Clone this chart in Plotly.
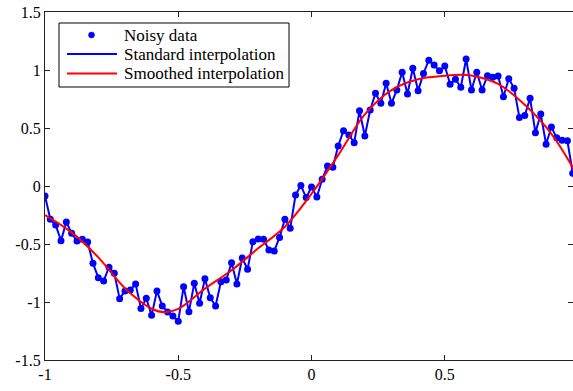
import plotly.graph_objects as go

# ---- data ----
noisy_x = [-1.00, -0.98, -0.96, -0.94, -0.92, -0.90, -0.88, -0.86, -0.84, -0.82,
           -0.80, -0.78, -0.76, -0.74, -0.72, -0.70, -0.68, -0.66, -0.64, -0.62,
           -0.60, -0.58, -0.56, -0.54, -0.52, -0.50, -0.48, -0.46, -0.44, -0.42,
           -0.40, -0.38, -0.36, -0.34, -0.32, -0.30, -0.28, -0.26, -0.24, -0.22,
           -0.20, -0.18, -0.16, -0.14, -0.12, -0.10, -0.08, -0.06, -0.04, -0.02,
           0.00, 0.02, 0.04, 0.06, 0.08, 0.10, 0.12, 0.14, 0.16, 0.18,
           0.20, 0.22, 0.24, 0.26, 0.28, 0.30, 0.32, 0.34, 0.36, 0.38,
           0.40, 0.42, 0.44, 0.46, 0.48, 0.50, 0.52, 0.54, 0.56, 0.58,
           0.60, 0.62, 0.64, 0.66, 0.68, 0.70, 0.72, 0.74, 0.76, 0.78,
           0.80, 0.82, 0.84, 0.86, 0.88, 0.90, 0.92, 0.94, 0.96, 0.98, 1.00]

noisy_y = [-0.086, -0.287, -0.336, -0.471, -0.310, -0.408, -0.474, -0.460, -0.483, -0.667,
           -0.790, -0.819, -0.700, -0.753, -0.971, -0.905, -0.897, -0.845, -1.057, -0.968,
           -1.115, -0.905, -1.034, -1.086, -1.120, -1.165, -0.868, -1.083, -0.839, -1.011,
           -0.800, -0.963, -1.034, -0.825, -0.810, -0.661, -0.845, -0.621, -0.718, -0.480,
           -0.457, -0.460, -0.552, -0.560, -0.443, -0.287, -0.365, -0.078, 0.004, -0.100,
           -0.008, -0.095, 0.058, 0.172, 0.161, 0.345, 0.477, 0.440, 0.373, 0.649,
           0.431, 0.655, 0.799, 0.713, 0.885, 0.713, 0.828, 0.980, 0.793, 1.015,
           0.822, 0.970, 1.085, 1.043, 0.994, 1.034, 0.877, 0.920, 0.851, 1.095,
           0.828, 0.980, 0.828, 0.951, 0.937, 0.948, 0.770, 0.925, 0.842, 0.590,
           0.608, 0.756, 0.460, 0.620, 0.360, 0.508, 0.415, 0.394, 0.390, 0.109, -0.050]

smooth_x = [-1.0, -0.9, -0.8, -0.7, -0.6, -0.55, -0.5, -0.4, -0.3, -0.2, -0.1,
            0.0, 0.1, 0.2, 0.3, 0.4, 0.5, 0.56, 0.6, 0.7, 0.8, 0.9, 1.0]
smooth_y = [-0.25, -0.40, -0.615, -0.882, -1.058, -1.088, -1.06, -0.885, -0.726, -0.537, -0.351,
            -0.067, 0.266, 0.618, 0.827, 0.920, 0.950, 0.960, 0.953, 0.880, 0.700, 0.450, 0.08]

series_names = ["Noisy data", "Standard interpolation", "Smoothed interpolation"]

x_tickvals = [-1, -0.5, 0, 0.5, 1]
x_ticktext = ["-1", "-0.5", "0", "0.5", "1"]
y_tickvals = [-1.5, -1, -0.5, 0, 0.5, 1, 1.5]
y_ticktext = ["-1.5", "-1", "-0.5", "0", "0.5", "1", "1.5"]

FONT = "Liberation Serif"
BLUE = "#0000ff"
RED = "#ff0000"

# plot-area geometry (pixels) used to place the hand-built legend
W, H = 573, 391
ML, MR, MT, MB = 45, 0, 12, 31
PW, PH = W - ML - MR, H - MT - MB


def px(xp):
    return (xp - ML) / PW


def py(yp):
    return 1 - (yp - MT) / PH


fig = go.Figure()
fig.add_trace(go.Scatter(x=noisy_x, y=noisy_y, mode="lines", name=series_names[1],
                         line=dict(color=BLUE, width=2), showlegend=False))
fig.add_trace(go.Scatter(x=noisy_x, y=noisy_y, mode="markers", name=series_names[0],
                         marker=dict(color=BLUE, size=7), showlegend=False))
fig.add_trace(go.Scatter(x=smooth_x, y=smooth_y, mode="lines", name=series_names[2],
                         line=dict(color=RED, width=2, shape="spline", smoothing=1),
                         showlegend=False))

# legend box
shapes = [dict(type="rect", xref="paper", yref="paper",
               x0=px(59), x1=px(289), y0=py(87), y1=py(23),
               line=dict(color="black", width=1), fillcolor="white", layer="above")]
# legend symbols
shapes.append(dict(type="circle", xref="paper", yref="paper",
                   x0=px(88.5), x1=px(94.5), y0=py(38), y1=py(32),
                   line=dict(color=BLUE, width=0.5), fillcolor=BLUE, layer="above"))
shapes.append(dict(type="line", xref="paper", yref="paper",
                   x0=px(67), x1=px(117), y0=py(54), y1=py(54),
                   line=dict(color=BLUE, width=2), layer="above"))
shapes.append(dict(type="line", xref="paper", yref="paper",
                   x0=px(67), x1=px(117), y0=py(73.5), y1=py(73.5),
                   line=dict(color=RED, width=2), layer="above"))

annotations = []
for name, yrow in zip(series_names, [35, 54, 73.5]):
    annotations.append(dict(text=name, xref="paper", yref="paper",
                            x=px(122), y=py(yrow), xanchor="left", yanchor="middle",
                            showarrow=False,
                            font=dict(family=FONT, size=17, color="black")))

axis_common = dict(showgrid=False, zeroline=False, showline=True, linecolor="#222222",
                   linewidth=1.3, mirror="ticks", ticks="inside", ticklen=5,
                   tickcolor="#222222", tickwidth=1,
                   tickfont=dict(family=FONT, size=16, color="black"))

fig.update_layout(
    width=W, height=H,
    margin=dict(l=ML, r=MR, t=MT, b=MB),
    paper_bgcolor="white", plot_bgcolor="white",
    showlegend=False,
    font=dict(family=FONT),
    shapes=shapes, annotations=annotations,
    xaxis=dict(range=[-1, 0.981], tickvals=x_tickvals, ticktext=x_ticktext, **axis_common),
    yaxis=dict(range=[-1.5, 1.5], tickvals=y_tickvals, ticktext=y_ticktext, **axis_common),
)

fig.write_html("out.html")
